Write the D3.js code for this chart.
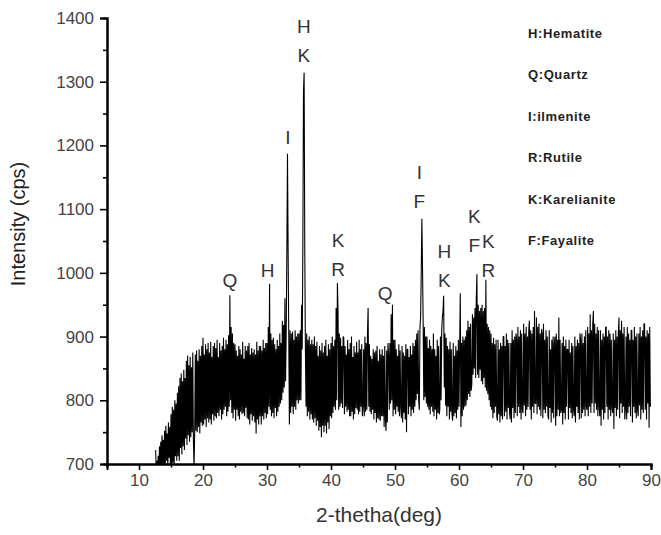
<!doctype html>
<html lang="en">
  <head>
    <meta charset="UTF-8" />
    <title>XRD pattern</title>
    <script src="https://d3js.org/d3.v7.min.js"></script>
    <style>
      body { margin: 0; background: #fff; }
      svg { display: block; font-family: "Liberation Sans", Arial, sans-serif; }
    </style>
  </head>
  <body>
    <svg id="chart" width="661" height="535"></svg>
  </body>
  <script>
    // scan: 2-theta from 12.6 deg, one reading every 0.1 deg
    const startAngle = 12.6;
    const angleStep = 0.1;
    const counts = [
      722, 690, 705, 688,                                  // 12
      713, 692, 728, 690, 735, 698, 745, 700, 738, 695,    // 13
      752, 698, 760, 705, 748, 692, 765, 710, 758, 700,    // 14
      778, 688, 790, 702, 785, 695, 800, 712, 795, 705,    // 15
      812, 712, 822, 705, 835, 725, 842, 715, 830, 728,    // 16
      848, 722, 835, 740, 862, 730, 870, 745, 855, 735,    // 17
      868, 742, 852, 750, 875, 738, 695, 748, 872, 752,    // 18
      878, 750, 862, 758, 880, 748, 870, 765, 885, 760,    // 19
      898, 762, 872, 770, 888, 758, 880, 772, 890, 765,    // 20
      875, 770, 892, 762, 868, 778, 885, 768, 890, 775,    // 21
      882, 772, 895, 780, 868, 775, 890, 785, 878, 770,    // 22
      885, 778, 898, 785, 880, 790, 895, 775, 888, 782,    // 23
      902, 790, 965, 800, 915, 780, 905, 772, 890, 785,    // 24
      888, 768, 878, 785, 870, 775, 885, 770, 880, 782,    // 25
      872, 778, 892, 780, 865, 775, 885, 788, 878, 772,    // 26
      885, 770, 890, 762, 872, 778, 882, 768, 875, 775,    // 27
      880, 765, 872, 748, 892, 770, 878, 762, 885, 775,    // 28
      885, 762, 878, 775, 895, 770, 882, 780, 890, 772,    // 29
      890, 778, 915, 790, 983, 785, 905, 775, 895, 780,    // 30
      898, 772, 888, 788, 880, 775, 895, 782, 885, 790,    // 31
      905, 795, 890, 800, 925, 812, 918, 820, 960, 830,    // 32
      905, 1030, 1187, 1034, 900, 762, 910, 780, 905, 790, // 33
      908, 778, 895, 790, 910, 785, 900, 800, 905, 795,    // 34
      905, 800, 910, 800, 950, 880, 1040, 1285, 1314, 1040, // 35
      880, 790, 905, 775, 895, 782, 900, 770, 888, 778,    // 36
      895, 770, 888, 765, 900, 772, 885, 760, 892, 768,    // 37
      870, 752, 885, 758, 878, 742, 890, 760, 875, 750,    // 38
      885, 760, 895, 748, 870, 765, 888, 755, 880, 775,    // 39
      890, 772, 900, 780, 885, 790, 895, 785, 945, 800,    // 40
      984, 940, 785, 905, 790, 898, 795, 885, 788, 900,    // 41
      898, 778, 885, 790, 872, 782, 895, 785, 880, 775,    // 42
      890, 775, 900, 782, 868, 770, 885, 778, 875, 788,    // 43
      892, 785, 875, 778, 895, 782, 880, 790, 888, 775,    // 44
      788, 880, 775, 900, 782, 890, 785, 905, 945, 790,    // 45
      888, 782, 870, 778, 865, 785, 880, 770, 875, 780,    // 46
      878, 765, 885, 772, 862, 770, 880, 768, 872, 775,    // 47
      880, 775, 870, 758, 885, 770, 752, 878, 765, 890,    // 48
      872, 785, 890, 795, 935, 800, 950, 775, 895, 785,    // 49
      895, 778, 880, 790, 870, 782, 888, 775, 878, 790,    // 50
      772, 885, 765, 875, 780, 870, 770, 888, 750, 880,    // 51
      880, 778, 868, 790, 885, 775, 872, 785, 890, 780,    // 52
      885, 790, 895, 800, 905, 810, 910, 800, 785, 915,    // 53
      930, 1000, 1085, 1009, 920, 800, 915, 805, 900, 795, // 54
      900, 790, 882, 785, 895, 778, 885, 790, 880, 782,    // 55
      905, 775, 880, 785, 870, 770, 895, 780, 885, 778,    // 56
      785, 900, 800, 910, 930, 940, 964, 820, 905, 792,    // 57
      898, 775, 885, 790, 880, 770, 892, 782, 880, 778,    // 58
      768, 890, 775, 870, 780, 885, 772, 878, 785, 895,    // 59
      790, 880, 968, 758, 890, 775, 900, 785, 895, 790,    // 60
      900, 792, 910, 800, 925, 810, 915, 805, 920, 815,    // 61
      825, 935, 840, 930, 850, 945, 835, 960, 998, 840,    // 62
      950, 835, 940, 848, 945, 830, 950, 825, 940, 835,    // 63
      945, 820, 989, 815, 920, 810, 915, 800, 910, 790,    // 64
      905, 785, 890, 772, 898, 780, 888, 790, 895, 775,    // 65
      768, 895, 778, 880, 765, 890, 775, 885, 770, 900,    // 66
      900, 775, 885, 782, 905, 770, 895, 788, 890, 780,    // 67
      770, 890, 765, 910, 788, 895, 772, 900, 780, 905,    // 68
      895, 775, 915, 790, 900, 780, 910, 770, 905, 785,    // 69
      780, 920, 792, 905, 775, 915, 785, 900, 790, 910,    // 70
      925, 785, 910, 770, 905, 790, 915, 780, 940, 795,    // 71
      795, 930, 778, 915, 790, 920, 785, 905, 775, 912,    // 72
      905, 772, 920, 785, 895, 780, 910, 790, 900, 775,    // 73
      770, 910, 788, 880, 765, 895, 780, 900, 772, 890,    // 74
      900, 760, 905, 775, 895, 785, 930, 775, 895, 780,    // 75
      785, 890, 762, 900, 780, 885, 770, 895, 790, 880,    // 76
      880, 770, 895, 788, 875, 780, 890, 772, 885, 785,    // 77
      775, 900, 765, 885, 790, 895, 780, 890, 770, 905,    // 78
      895, 772, 905, 780, 890, 785, 900, 775, 910, 790,    // 79
      785, 915, 775, 905, 790, 935, 780, 910, 795, 920,    // 80
      940, 780, 920, 795, 905, 785, 915, 775, 910, 790,    // 81
      775, 910, 760, 895, 785, 905, 770, 900, 780, 915,    // 82
      915, 790, 900, 770, 910, 785, 905, 775, 895, 788,    // 83
      780, 905, 755, 895, 788, 910, 775, 900, 785, 905,    // 84
      930, 772, 910, 795, 925, 780, 905, 790, 915, 770,    // 85
      785, 900, 770, 915, 780, 905, 790, 895, 775, 910,    // 86
      910, 765, 895, 790, 915, 780, 900, 772, 905, 785,    // 87
      775, 905, 792, 915, 770, 900, 785, 910, 780, 920,    // 88
      920, 785, 900, 770, 910, 795, 905, 757, 915, 790,    // 89
      795                                                  // 90
    ];

    const xTickValues = [10, 20, 30, 40, 50, 60, 70, 80, 90];
    const yTickValues = [700, 800, 900, 1000, 1100, 1200, 1300, 1400];

    // peak assignments (label centre angle, letters top to bottom, level of lowest letter)
    const labelAngles = [24.2, 30.1, 33.25, 35.75, 41.1, 48.45, 53.8, 57.7, 62.4, 64.6];
    const labelTags = [["Q"], ["H"], ["I"], ["H", "K"], ["K", "R"], ["Q"], ["I", "F"], ["H", "K"], ["K", "F"], ["K", "R"]];
    const labelLevels = [978, 994, 1202, 1331, 995, 957, 1102, 978, 1033, 994];

    const phaseCodes = ["H", "Q", "I", "R", "K", "F"];
    const phaseNames = ["Hematite", "Quartz", "ilmenite", "Rutile", "Karelianite", "Fayalite"];

    const svg = d3.select("#chart");
    const plot = { left: 107, right: 651, top: 18, bottom: 464 };

    const x = d3.scaleLinear().domain([5, 90]).range([plot.left, plot.right]);
    const y = d3.scaleLinear().domain([700, 1400]).range([plot.bottom, plot.top]);

    svg.append("clipPath").attr("id", "plotClip")
      .append("rect")
      .attr("x", plot.left).attr("y", plot.top)
      .attr("width", plot.right - plot.left).attr("height", plot.bottom - plot.top);

    const line = d3.line()
      .x((d, i) => x(startAngle + i * angleStep))
      .y(d => y(d));

    svg.append("path")
      .datum(counts)
      .attr("clip-path", "url(#plotClip)")
      .attr("d", line)
      .attr("fill", "none")
      .attr("stroke", "#000")
      .attr("stroke-width", 1.1)
      .attr("stroke-linejoin", "miter")
      .attr("stroke-miterlimit", 1);

    // minor ticks
    const xMinor = svg.append("g").attr("transform", `translate(0,${plot.bottom})`)
      .call(d3.axisBottom(x).tickValues(d3.range(5, 90, 10)).tickSize(3.5).tickFormat(""));
    const yMinor = svg.append("g").attr("transform", `translate(${plot.left},0)`)
      .call(d3.axisLeft(y).tickValues(d3.range(750, 1400, 100)).tickSize(4).tickFormat(""));

    const xAxis = svg.append("g").attr("transform", `translate(0,${plot.bottom})`)
      .call(d3.axisBottom(x).tickValues(xTickValues).tickSize(6).tickPadding(4).tickFormat(d3.format("d")));
    const yAxis = svg.append("g").attr("transform", `translate(${plot.left},0)`)
      .call(d3.axisLeft(y).tickValues(yTickValues).tickSize(7).tickPadding(6).tickFormat(d3.format("d")));

    [xMinor, yMinor, xAxis, yAxis].forEach(g => {
      g.select(".domain").attr("stroke", "#000").attr("stroke-width", 2);
      g.selectAll(".tick line").attr("stroke", "#000").attr("stroke-width", 1.6);
      g.selectAll(".tick text")
        .attr("font-family", "Liberation Sans, Arial, sans-serif")
        .attr("font-size", 17)
        .attr("fill", "#444");
    });

    svg.append("text")
      .attr("x", 379).attr("y", 522)
      .attr("text-anchor", "middle")
      .attr("font-size", 21)
      .attr("fill", "#333")
      .text("2-thetha(deg)");

    svg.append("text")
      .attr("transform", "translate(25,224) rotate(-90)")
      .attr("text-anchor", "middle")
      .attr("font-size", 20)
      .attr("fill", "#222")
      .text("Intensity (cps)");

    // peak letters
    labelAngles.forEach((a, i) => {
      const tags = labelTags[i];
      tags.forEach((t, j) => {
        svg.append("text")
          .attr("x", x(a))
          .attr("y", y(labelLevels[i]) - (tags.length - 1 - j) * 29)
          .attr("text-anchor", "middle")
          .attr("font-size", 19)
          .attr("fill", "#333")
          .text(t);
      });
    });

    // phase key
    phaseCodes.forEach((c, i) => {
      svg.append("text")
        .attr("x", 528)
        .attr("y", 38 + i * 41.4)
        .attr("font-size", 13)
        .attr("font-weight", "bold")
        .attr("letter-spacing", 0.6)
        .attr("fill", "#222")
        .text(c + ":" + phaseNames[i]);
    });
  </script>
</html>
